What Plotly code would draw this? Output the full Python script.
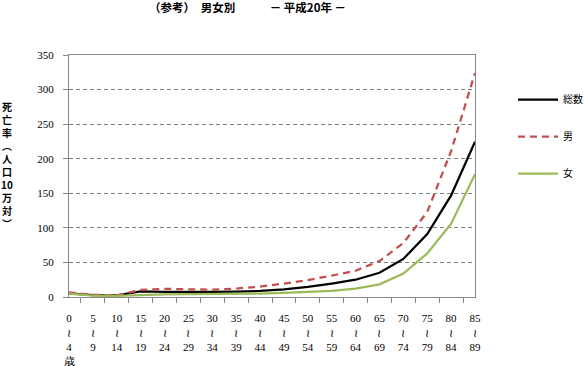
import plotly.graph_objects as go

age_start = [0, 5, 10, 15, 20, 25, 30, 35, 40, 45, 50, 55, 60, 65, 70, 75, 80, 85]
age_end = [4, 9, 14, 19, 24, 29, 34, 39, 44, 49, 54, 59, 64, 69, 74, 79, 84, 89]

total = [5.2, 2.6, 2.2, 8.0, 7.5, 7.2, 7.3, 7.8, 8.8, 11.0, 14.5, 19.5, 25.0, 35.0, 55.0, 91.0, 147.0, 224.5]
male = [6.8, 3.2, 2.4, 10.3, 11.8, 11.2, 10.6, 12.2, 15.0, 19.5, 24.5, 31.0, 38.0, 52.0, 78.0, 123.0, 211.0, 324.0]
female = [4.8, 2.0, 1.6, 3.0, 3.9, 4.3, 4.4, 4.5, 5.0, 6.0, 7.0, 8.7, 12.0, 18.3, 34.0, 63.0, 106.0, 177.5]

y_ticks = [0, 50, 100, 150, 200, 250, 300, 350]

categories = []
for i, (s, e) in enumerate(zip(age_start, age_end)):
    lab = f"{s}<br>≀<br>{e}"
    if i == 0:
        lab += "<br>歳"
    categories.append(lab)

series = [
    ("総数", total, "#000000", "solid"),
    ("男", male, "#C0504D", "7px,5px"),
    ("女", female, "#9BBB59", "solid"),
]

fig = go.Figure()
for i, (name, vals, color, dash) in enumerate(series):
    fig.add_trace(go.Scatter(
        x=categories, y=vals, name=name, mode="lines",
        line=dict(color=color, width=2.25, dash=dash),
        legendgroup=f"g{i}",
    ))

serif = "Liberation Serif"
cjk = "Noto Sans CJK JP"

fig.update_layout(
    width=584, height=366,
    margin=dict(l=69, r=109, t=55, b=69, autoexpand=False),
    paper_bgcolor="white", plot_bgcolor="white",
    showlegend=True,
    legend=dict(
        xref="container", yref="container",
        x=513 / 584, y=1 - 85 / 366, xanchor="left", yanchor="top",
        font=dict(family=cjk, size=10, color="#000"),
        tracegroupgap=18, traceorder="grouped",
        itemwidth=40, bgcolor="rgba(0,0,0,0)",
    ),
    xaxis=dict(
        type="category",
        automargin=False,
        showgrid=False,
        showline=True, linecolor="#888888", linewidth=1, mirror=True,
        ticks="outside", tickson="boundaries", ticklen=5, tickcolor="#888888",
        tickfont=dict(family=serif, size=11, color="#000"),
        ticklabelstandoff=11,
        fixedrange=True,
    ),
    yaxis=dict(
        range=[0, 350],
        automargin=False,
        tickvals=y_ticks,
        showgrid=True, gridcolor="#808080", gridwidth=1, griddash="4px,3px",
        showline=True, linecolor="#888888", linewidth=1, mirror=True,
        ticks="outside", ticklen=5, tickcolor="#888888",
        tickfont=dict(family=serif, size=11, color="#000"),
        ticklabelstandoff=7,
        zeroline=False,
        fixedrange=True,
    ),
)

fig.add_annotation(
    text="（参考）　男女別　　　－ 平成20年 －",
    xref="paper", yref="paper", x=0.44, y=1.198,
    xanchor="center", yanchor="middle", showarrow=False,
    font=dict(family=cjk, size=11.5, color="#000", weight="bold"),
)

ytitle = "<br>".join(["死", "亡", "率", "︵", "人", "口", "10", "万", "対", "︶"])
fig.add_annotation(
    text=ytitle,
    xref="paper", yref="paper", x=-0.152, y=0.545,
    xanchor="center", yanchor="middle", showarrow=False,
    font=dict(family=cjk, size=10, color="#000", weight="bold"),
)

fig.write_html(
    "out.html",
    config={"displayModeBar": False},
    post_script="document.body.style.margin='0px';document.body.style.overflow='hidden';",
)
